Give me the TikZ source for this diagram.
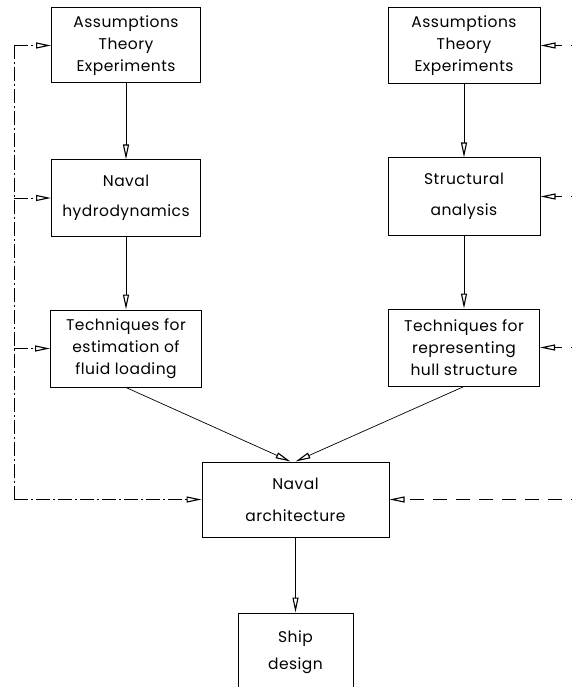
\documentclass[tikz,border=0pt]{standalone}
\usepackage{fontspec}
\setmainfont[LetterSpace=3]{Poppins}
\usepackage{tikz}
\usetikzlibrary{arrows.meta}
\tikzset{box/.style={draw, line width=1pt, align=center, inner sep=0pt,
   font=\fontsize{15.5}{22}\selectfont},
 flow/.style={line width=0.7pt, -{Triangle[open,length=15pt,width=6pt,line width=1.1pt]}},
 feedl/.style={line width=0.7pt, dash pattern=on 14pt off 3pt on 2pt off 3pt},
 feedr/.style={line width=0.7pt, dash pattern=on 14pt off 9pt},
 }

\begin{document}
\begin{tikzpicture}[x=1pt,y=-1pt]
        \clip (0,0) rectangle (572,687);
        % fluid side
        \node[box, minimum width=149pt, minimum height=75pt] (asl) at (126,45.5)
            {Assumptions\\Theory\\Experiments};
        \node[box, minimum width=149pt, minimum height=76pt] (hyd) at (126,198)
            {Naval\\[8pt]hydrodynamics};
        \node[box, minimum width=151pt, minimum height=77pt] (fld) at (126,348.5)
            {Techniques for\\estimation of\\fluid loading};
        % structure side
        \node[box, minimum width=152pt, minimum height=76pt] (asr) at (464,45.5)
            {Assumptions\\Theory\\Experiments};
        \node[box, minimum width=152pt, minimum height=77pt] (str) at (464,196.5)
            {Structural\\[9pt]analysis};
        \node[box, minimum width=151pt, minimum height=77pt] (hul) at (464,347.5)
            {Techniques for\\representing\\hull structure};
        % bottom
        \node[box, minimum width=187pt, minimum height=75pt] (nav) at (295.5,499.5)
            {Naval\\[10pt]architecture};
        \node[box, minimum width=115pt, minimum height=78pt] (shp) at (295.5,652)
            {Ship\\[5pt]design};

        \draw[flow] (asl) -- (hyd);
        \draw[flow] (hyd) -- (fld);
        \draw[flow] (asr) -- (str);
        \draw[flow] (str) -- (hul);
        \draw[flow] (fld.south) -- ([xshift=-5pt]nav.north);
        \draw[flow] (hul.south) -- (nav.north);
        \draw[flow] (nav) -- (shp);

        \coordinate (lf) at (14,0);
        \coordinate (rt) at (585,0);
        \draw[feedl] (asl.west -| lf) -- (nav.west -| lf);
        \draw[feedl,flow] (asl.west -| lf) -- (asl.west);
        \draw[feedl,flow] (hyd.west -| lf) -- (hyd.west);
        \draw[feedl,flow] (fld.west -| lf) -- (fld.west);
        \draw[feedl,flow] (nav.west -| lf) -- (nav.west);
        \draw[feedr,flow] (asr.east -| rt) -- (asr.east);
        \draw[feedr,flow] (str.east -| rt) -- (str.east);
        \draw[feedr,flow] (hul.east -| rt) -- (hul.east);
        \draw[feedr,flow] (nav.east -| rt) -- (nav.east);
    \end{tikzpicture}
\end{document}
